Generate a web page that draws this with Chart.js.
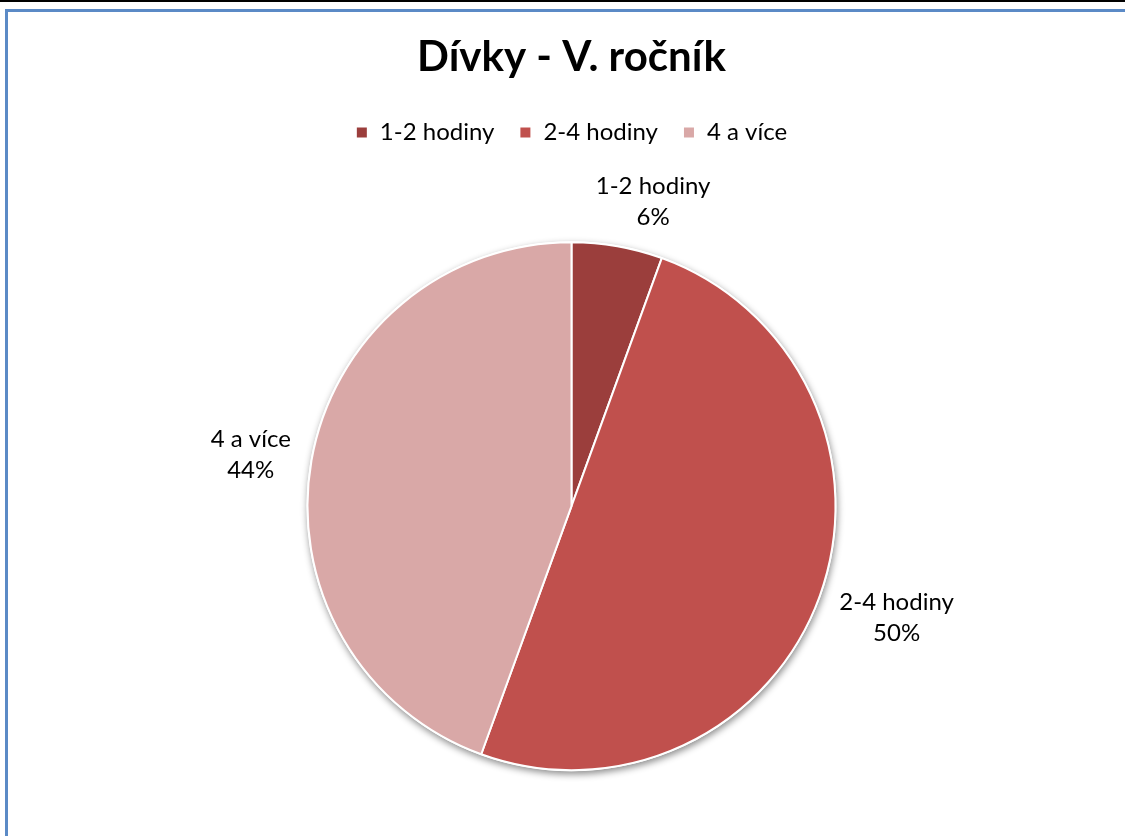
<!DOCTYPE html>
<html>
<head>
<meta charset="utf-8">
<title>Dívky - V. ročník</title>
<script src="https://cdn.jsdelivr.net/npm/chart.js@4/dist/chart.umd.min.js"></script>
<style>
  html, body { margin: 0; padding: 0; background: #ffffff; overflow: hidden; }
  canvas { display: block; }
</style>
</head>
<body>
<canvas id="c" width="1125" height="880"></canvas>
<script>
const titleText = 'Dívky - V. ročník';
const categories = ['1-2 hodiny', '2-4 hodiny', '4 a více'];
const values = [1, 9, 8];
const colors = ['#9B3E3C', '#C0504D', '#D9A8A7'];

const FONT = 'Lato, "Noto Sans", "Liberation Sans", sans-serif';

const framePlugin = {
  id: 'frame',
  beforeDraw(chart) {
    const ctx = chart.ctx;
    ctx.save();
    ctx.fillStyle = '#ffffff';
    ctx.fillRect(0, 0, chart.width, chart.height);
    ctx.fillStyle = '#000000';
    ctx.fillRect(0, 0, chart.width, 2);
    ctx.fillStyle = '#5B8AC6';
    ctx.fillRect(5, 9, chart.width - 5, 3);
    ctx.fillRect(5, 9, 3, chart.height - 9);
    ctx.restore();
  }
};

const shadowPlugin = {
  id: 'pieShadow',
  beforeDatasetsDraw(chart) {
    const meta = chart.getDatasetMeta(0);
    const el = meta.data[0];
    if (!el) return;
    const p = el.getProps(['x', 'y', 'outerRadius'], true);
    const ctx = chart.ctx;
    ctx.save();
    ctx.shadowColor = 'rgba(0,0,0,0.45)';
    ctx.shadowBlur = 7;
    ctx.shadowOffsetX = 1;
    ctx.shadowOffsetY = 3;
    ctx.fillStyle = '#ffffff';
    ctx.beginPath();
    ctx.arc(p.x, p.y, p.outerRadius + 1, 0, Math.PI * 2);
    ctx.fill();
    ctx.restore();
  }
};

const outLabelPlugin = {
  id: 'outLabels',
  afterDatasetsDraw(chart) {
    const ctx = chart.ctx;
    const meta = chart.getDatasetMeta(0);
    const data = chart.data.datasets[0].data;
    const total = data.reduce((a, b) => a + b, 0);
    ctx.save();
    ctx.font = '24px ' + FONT;
    ctx.fillStyle = '#000000';
    ctx.textAlign = 'center';
    ctx.textBaseline = 'middle';
    const lineH = 31;
    const gap = 21;
    meta.data.forEach((arc, i) => {
      const p = arc.getProps(['x', 'y', 'startAngle', 'endAngle', 'outerRadius'], true);
      const mid = (p.startAngle + p.endAngle) / 2;
      const lines = [chart.data.labels[i], Math.round(data[i] / total * 100) + '%'];
      const w = Math.max(...lines.map(t => ctx.measureText(t).width));
      const h = lineH * lines.length;
      const cx = Math.cos(mid), sy = Math.sin(mid);
      const ax = p.x + cx * (p.outerRadius + gap);
      const ay = p.y + sy * (p.outerRadius + gap);
      let tx, ty;
      if (Math.abs(sy) > Math.abs(cx)) {
        // label above / below the pie
        tx = ax + Math.sign(cx) * w * 0.28;
        ty = ay + Math.sign(sy) * (h / 2 - 7);
      } else {
        // label beside the pie
        tx = ax + Math.sign(cx) * w / 2;
        ty = ay + sy * h / 2 + 3;
      }
      lines.forEach((t, k) => {
        ctx.fillText(t, tx, ty + (k - (lines.length - 1) / 2) * lineH);
      });
    });
    ctx.restore();
  }
};

new Chart(document.getElementById('c'), {
  type: 'pie',
  data: {
    labels: categories,
    datasets: [{
      data: values,
      backgroundColor: colors,
      borderColor: '#ffffff',
      borderWidth: 2,
      hoverOffset: 0,
      radius: 264
    }]
  },
  options: {
    responsive: false,
    animation: false,
    devicePixelRatio: 1,
    layout: { padding: { top: 12, left: 24, right: 6, bottom: 22 } },
    plugins: {
      title: {
        display: true,
        text: titleText,
        color: '#000000',
        font: { family: FONT, size: 42, weight: 'bold' },
        padding: { top: 20, bottom: 13 }
      },
      legend: {
        position: 'top',
        labels: {
          color: '#000000',
          font: { family: FONT, size: 24 },
          boxWidth: 12,
          boxHeight: 12,
          padding: 25
        }
      },
      tooltip: { enabled: false }
    }
  },
  plugins: [framePlugin, shadowPlugin, outLabelPlugin]
});
</script>
</body>
</html>
